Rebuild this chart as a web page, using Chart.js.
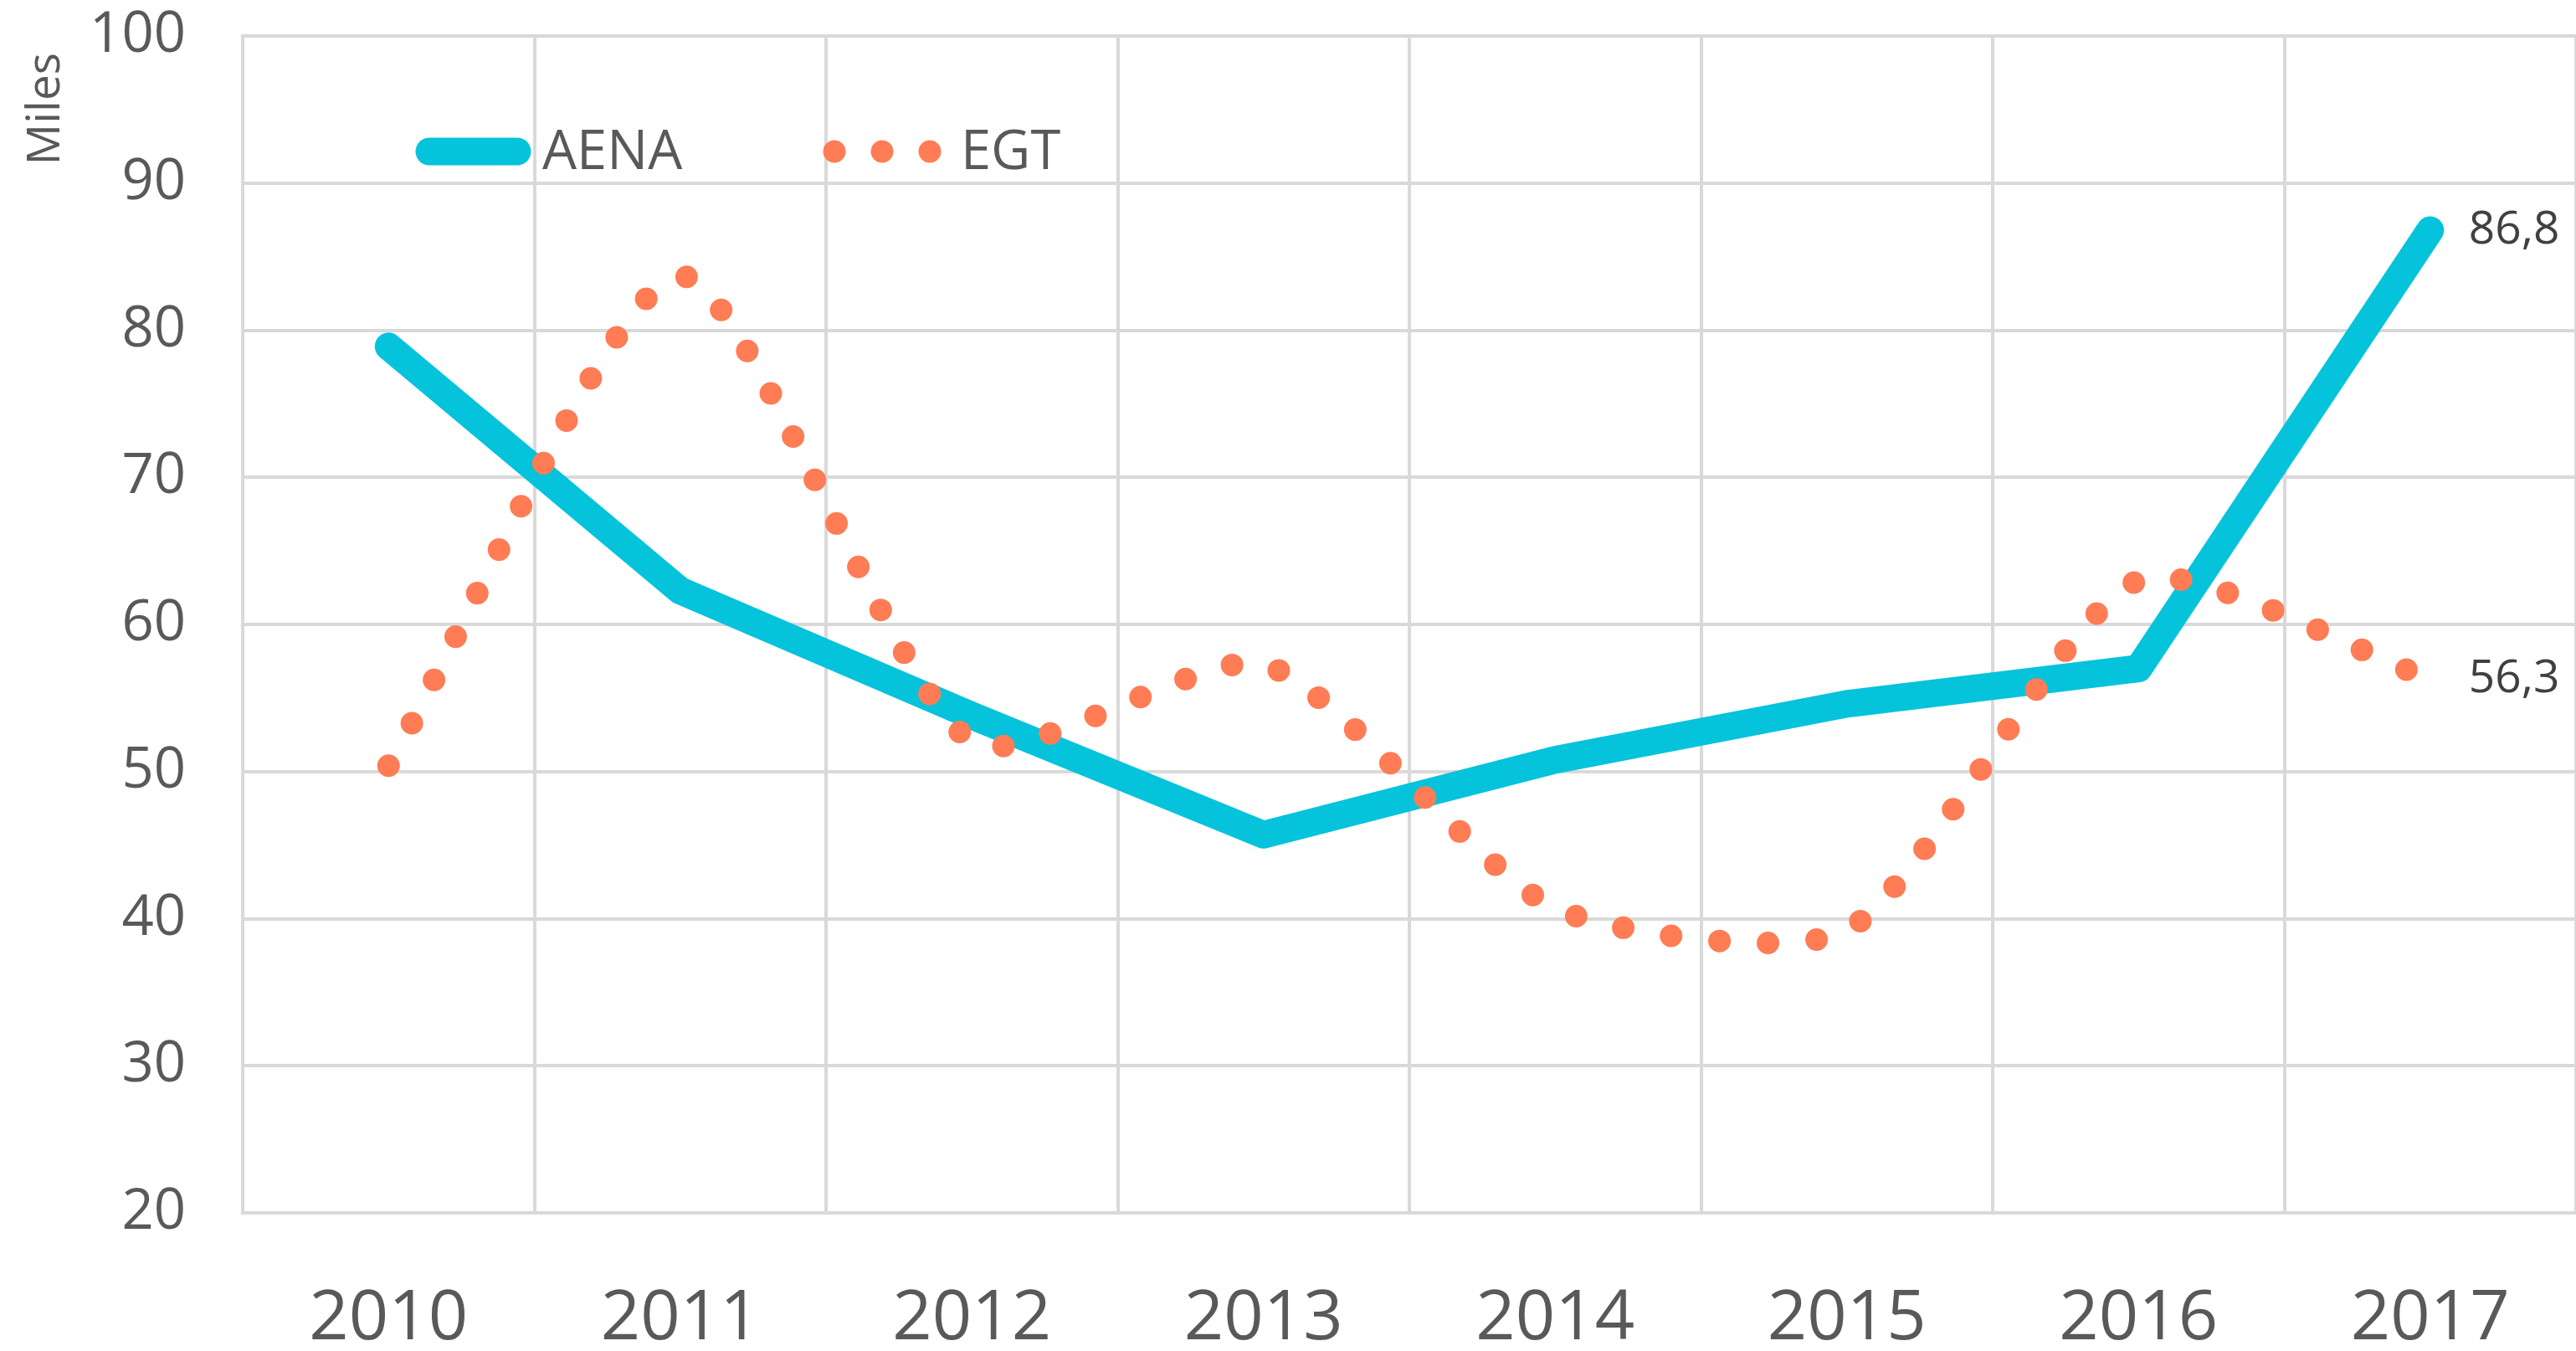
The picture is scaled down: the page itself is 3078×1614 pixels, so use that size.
<!DOCTYPE html>
<html>
<head>
<meta charset="utf-8">
<script src="https://cdn.jsdelivr.net/npm/chart.js@4.4.1/dist/chart.umd.min.js"></script>
<style>
  html, body { margin: 0; padding: 0; background: #fff; }
  #wrap { width: 3078px; height: 1614px; }
</style>
</head>
<body>
<div id="wrap"><canvas id="chart" width="3078" height="1614"></canvas></div>
<script>
// Data
const years = ["2010", "2011", "2012", "2013", "2014", "2015", "2016", "2017"];
const aena = [78.9, 62.3, 53.8, 45.7, 50.8, 54.6, 57.0, 86.8];
const egt = [50.4, 83.7, 52.0, 57.3, 40.7, 39.2, 63.0, 56.3];
const yTicks = [20, 30, 40, 50, 60, 70, 80, 90, 100];

const COLORS = {
  aena: "#06C3DC",
  egt: "#FF7C55",
  grid: "#D9D9D9",
  text: "#595959",
  label: "#404040",
};
const FONT = "'Open Sans', 'Noto Sans', sans-serif";

// last-point value labels ("86,8")
const endLabels = {
  id: "endLabels",
  afterDatasetsDraw(chart) {
    const ctx = chart.ctx;
    ctx.save();
    ctx.font = `55px ${FONT}`;
    ctx.fillStyle = COLORS.label;
    ctx.textAlign = "left";
    ctx.textBaseline = "middle";
    chart.data.datasets.forEach((ds, i) => {
      const pts = chart.getDatasetMeta(i).data;
      const p = pts[pts.length - 1];
      const v = ds.data[ds.data.length - 1];
      ctx.fillText(v.toFixed(1).replace(".", ","), p.x + 46, p.y);
    });
    ctx.restore();
  },
};

// legend inside the plot (top-left) + rotated unit title
const innerLegend = {
  id: "innerLegend",
  afterDraw(chart) {
    const { ctx, chartArea } = chart;
    const y = chartArea.top + 138;
    const x0 = chartArea.left;
    ctx.save();
    // AENA sample
    ctx.strokeStyle = COLORS.aena;
    ctx.lineWidth = 33;
    ctx.lineCap = "round";
    ctx.beginPath();
    ctx.moveTo(x0 + 223, y);
    ctx.lineTo(x0 + 328, y);
    ctx.stroke();
    // EGT sample
    ctx.fillStyle = COLORS.egt;
    [707, 764, 821].forEach((dx) => {
      ctx.beginPath();
      ctx.arc(x0 + dx, y, 13.5, 0, Math.PI * 2);
      ctx.fill();
    });
    ctx.font = `65px ${FONT}`;
    ctx.fillStyle = COLORS.text;
    ctx.textBaseline = "middle";
    ctx.textAlign = "left";
    ctx.fillText("AENA", x0 + 358, y + 2);
    ctx.fillText("EGT", x0 + 858, y + 2);

    // "Miles" axis title
    ctx.translate(55, chartArea.top + 20);
    ctx.rotate(-Math.PI / 2);
    ctx.font = `55px ${FONT}`;
    ctx.textAlign = "right";
    ctx.fillText("Miles", 0, 0);
    ctx.restore();
  },
};

new Chart(document.getElementById("chart"), {
  type: "line",
  data: {
    labels: years,
    datasets: [
      {
        label: "AENA",
        data: aena,
        borderColor: COLORS.aena,
        backgroundColor: COLORS.aena,
        borderWidth: 33,
        borderCapStyle: "round",
        borderJoinStyle: "round",
        pointRadius: 0,
        pointHoverRadius: 0,
        pointBorderWidth: 0,
        tension: 0,
        fill: false,
        order: 1,
      },
      {
        label: "EGT",
        data: egt,
        borderColor: COLORS.egt,
        backgroundColor: COLORS.egt,
        borderWidth: 27,
        borderCapStyle: "round",
        borderDash: [0, 58],
        pointRadius: 0,
        pointHoverRadius: 0,
        pointBorderWidth: 0,
        tension: 0.22,
        fill: false,
        order: 0,
      },
    ],
  },
  options: {
    responsive: false,
    animation: false,
    layout: { autoPadding: false, padding: { top: 43, left: 0, right: 0, bottom: 0 } },
    plugins: {
      legend: { display: false },
      tooltip: { enabled: false },
    },
    scales: {
      x: {
        offset: true,
        grid: { color: COLORS.grid, lineWidth: 4, offset: true, drawTicks: false },
        border: { color: COLORS.grid, width: 4 },
        ticks: {
          color: COLORS.text,
          font: { family: FONT, size: 83, lineHeight: 1.0 },
          padding: 86,
          maxRotation: 0,
        },
        afterFit: (s) => {
          s.height = 165;
          s.paddingLeft = 0;
          s.paddingRight = 0;
        },
      },
      y: {
        min: 20,
        max: 100,
        afterBuildTicks: (s) => { s.ticks = yTicks.map((v) => ({ value: v })); },
        grid: { color: COLORS.grid, lineWidth: 4, drawTicks: false },
        border: { color: COLORS.grid, width: 4 },
        ticks: {
          color: COLORS.text,
          font: { family: FONT, size: 67 },
          padding: 68,
        },
        afterFit: (s) => {
          s.width = 290;
          s.paddingTop = 40;
          s.paddingBottom = 40;
        },
      },
    },
  },
  plugins: [endLabels, innerLegend],
});
</script>
</body>
</html>
